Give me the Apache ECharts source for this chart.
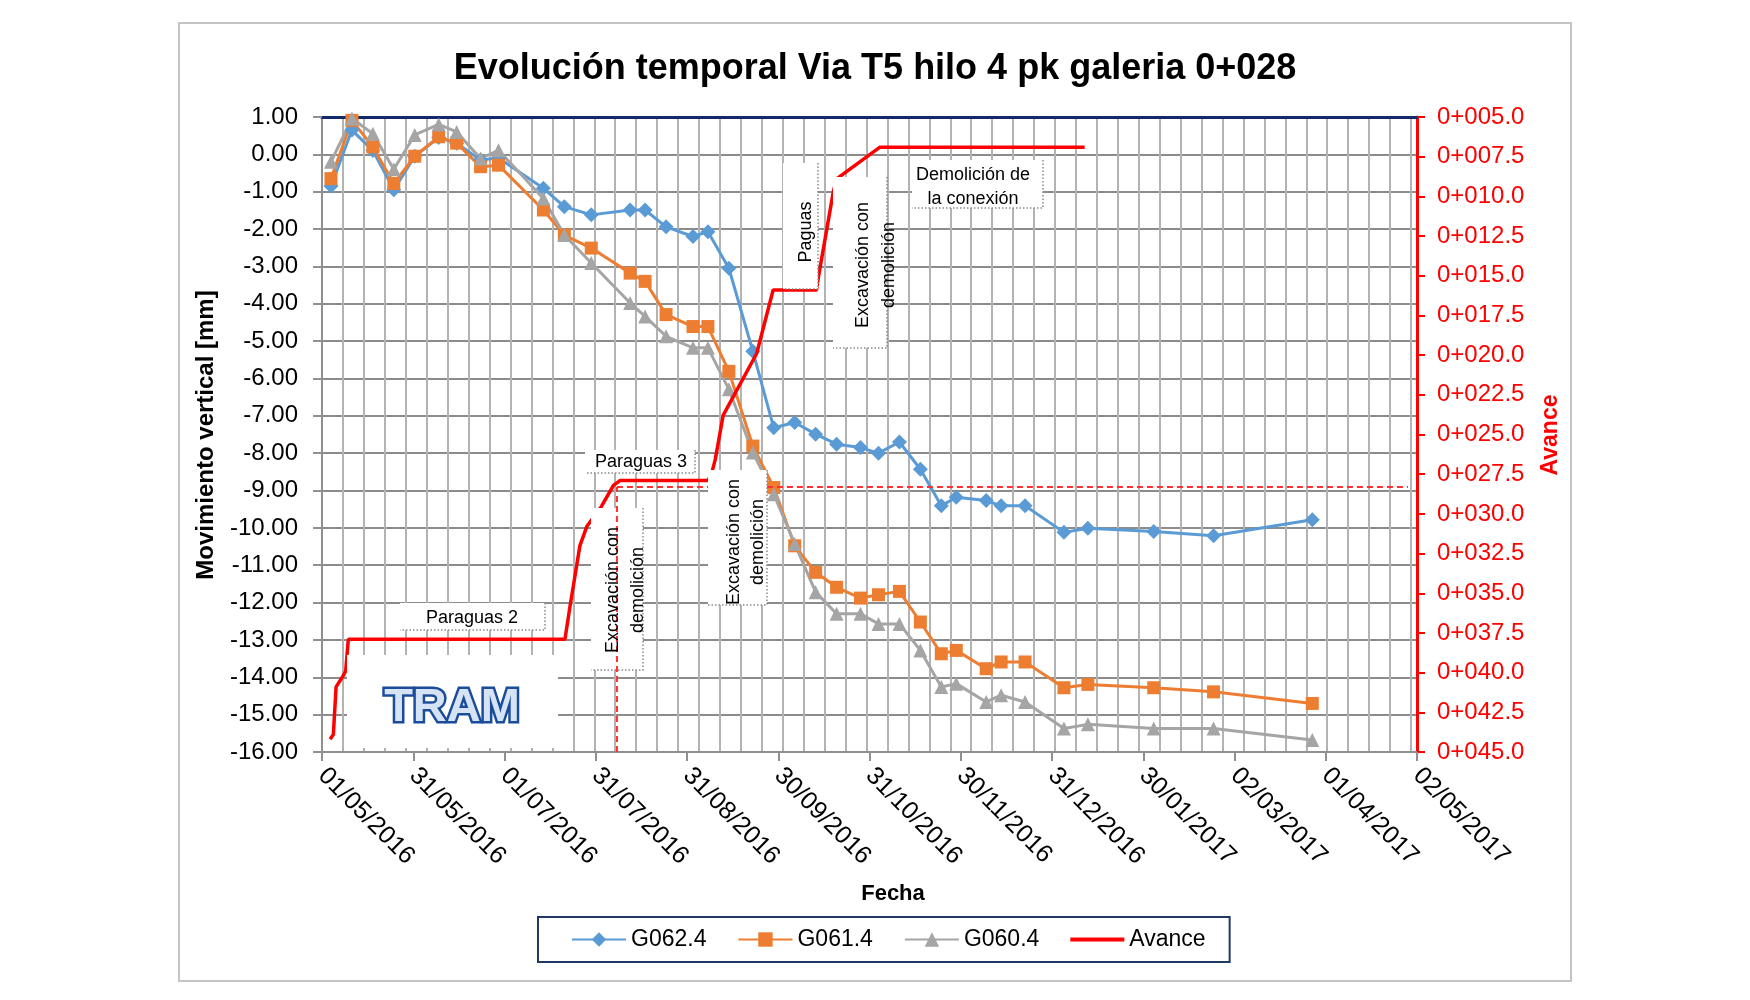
<!DOCTYPE html>
<html><head><meta charset="utf-8">
<style>html,body{margin:0;padding:0;background:#fff}#c{width:1750px;height:1000px}</style>
<script src="https://cdn.jsdelivr.net/npm/echarts@6/dist/echarts.min.js"></script>
</head><body><div id="c"></div>
<script>
// ---------- DATA ----------
const fechas = ["2016-05-04","2016-05-11","2016-05-18","2016-05-25","2016-06-01","2016-06-09","2016-06-15","2016-06-23","2016-06-29","2016-07-14","2016-07-21","2016-07-30","2016-08-12","2016-08-17","2016-08-24","2016-09-02","2016-09-07","2016-09-14","2016-09-22","2016-09-29","2016-10-06","2016-10-13","2016-10-20","2016-10-28","2016-11-03","2016-11-10","2016-11-17","2016-11-24","2016-11-29","2016-12-09","2016-12-14","2016-12-22","2017-01-04","2017-01-12","2017-02-03","2017-02-23","2017-03-28"];
const g062 = [-0.85,0.65,0.10,-0.95,-0.05,0.45,0.30,-0.15,-0.10,-0.91,-1.40,-1.62,-1.49,-1.49,-1.94,-2.20,-2.07,-3.05,-5.27,-7.32,-7.18,-7.49,-7.76,-7.85,-8.00,-7.70,-8.43,-9.41,-9.18,-9.27,-9.41,-9.41,-10.12,-10.01,-10.10,-10.21,-9.78];
const g061 = [-0.65,0.91,0.20,-0.78,-0.05,0.47,0.30,-0.33,-0.29,-1.49,-2.16,-2.51,-3.18,-3.40,-4.29,-4.61,-4.61,-5.81,-7.81,-8.92,-10.48,-11.19,-11.59,-11.88,-11.79,-11.70,-12.52,-13.37,-13.28,-13.77,-13.59,-13.59,-14.28,-14.19,-14.28,-14.39,-14.70];
const g060 = [-0.20,0.96,0.55,-0.40,0.52,0.80,0.60,-0.11,0.11,-1.18,-2.16,-2.91,-3.98,-4.34,-4.87,-5.18,-5.18,-6.29,-7.98,-9.10,-10.43,-11.72,-12.30,-12.30,-12.57,-12.57,-13.28,-14.26,-14.17,-14.66,-14.48,-14.66,-15.37,-15.26,-15.37,-15.37,-15.68];
const avanceFechas = ["2016-05-03T17:00","2016-05-04T19:00","2016-05-05T17:00","2016-05-08T02:00","2016-05-08T22:00","2016-05-09T19:00","2016-07-21T05:00","2016-07-22T22:00","2016-07-25T02:00","2016-07-26T05:00","2016-07-28T12:00","2016-08-02T12:00","2016-08-06T10:00","2016-08-08T14:00","2016-09-07T02:00","2016-09-08T07:00","2016-09-09T10:00","2016-09-12T02:00","2016-09-23T07:00","2016-09-28T19:00","2016-10-13T07:00","2016-10-13T22:00","2016-10-18T22:00","2016-10-20T00:00","2016-11-03T12:00","2017-01-10T22:00"];
const avancePk = [44.2,43.9,40.9,40.2,39.9,37.9,37.9,35.8,33.3,32.0,30.8,29.5,28.2,27.9,27.9,27.4,26.6,23.8,19.9,15.9,15.9,15.1,9.7,8.9,6.9,6.9];
const fechaGaleria = "2016-08-07T14:00";
const pkGaleria = 28.3;
const ejeXInicio = "2016-05-01", ejeXFin = "2017-05-02", ejeXPaso = 30.5, ejeXMenor = 7;
const ejeYMin = -16, ejeYMax = 1, ejeYPaso = 1;
const ejeY2Min = 5, ejeY2Max = 45, ejeY2Paso = 2.5;
const nombres = ["G062.4","G061.4","G060.4","Avance"];
const colores = ["#5b9bd5","#ed7d31","#a5a5a5","#ff0000"];

// ---------- HELPERS ----------
const FONT = "'Liberation Sans', Arial, Helvetica, sans-serif";
function utc(s){const m=s.match(/(\d+)-(\d+)-(\d+)(?:T(\d+):(\d+))?/);return Date.UTC(+m[1],+m[2]-1,+m[3],+(m[4]||0),+(m[5]||0));}
const T0 = utc(ejeXInicio);
const dia = s => (utc(s)-T0)/864e5;
const xMax = dia(ejeXFin);
const p2 = n => (n<10?'0':'')+n;
function fmtFecha(v){const d=new Date(T0+Math.floor(v+1e-6)*864e5);return p2(d.getUTCDate())+'/'+p2(d.getUTCMonth()+1)+'/'+d.getUTCFullYear();}
function fmtPk(v){let s=v.toFixed(1);while(s.length<5)s='0'+s;return '0+'+s;}

function box(x,y,w,h,dotted){
  const els=[{type:'rect',silent:true,z:4,shape:{x:x,y:y,width:w,height:h},style:{fill:'#ffffff'}}];
  if(dotted!==false) els.push({type:'polyline',silent:true,z:4,shape:{points:[[x+w,y],[x+w,y+h],[x,y+h]]},style:{stroke:'#8a8a8a',lineWidth:1.5,lineDash:[1.5,2],fill:null}});
  return els;
}
function txt(x,y,text,o){
  o=o||{};
  return {type:'text',silent:true,z:o.z||6,x:x,y:y,rotation:o.rot||0,
    style:{text:text,x:0,y:0,fill:o.fill||'#000',fontSize:o.size||18,fontWeight:o.weight||'normal',fontFamily:o.family||FONT,
      align:'center',verticalAlign:'middle',lineHeight:o.lh||22,stroke:o.stroke||null,lineWidth:o.lw||0}};
}
const V = Math.PI/2;

const graphics = [].concat(
  [{type:'rect',silent:true,z:0,shape:{x:179,y:23,width:1392,height:958},style:{fill:null,stroke:'#c4c4c4',lineWidth:2}}],
  [txt(875,69,'Evolución temporal Via T5 hilo 4 pk galeria 0+028',{size:36,weight:'bold'})],
  [txt(206,435,'Movimiento vertical [mm]',{size:24,weight:'bold',rot:V})],
  [txt(1551,435,'Avance',{size:23,weight:'bold',rot:V,fill:'#ff0000'})],
  [txt(893,894,'Fecha',{size:22,weight:'bold'})],
  box(400,603,145,27), [txt(472,618,'Paraguas 2')],
  box(585,450,110,23), [txt(641,462,'Paraguas 3')],
  box(591,508,52,162), [txt(625.5,590,'Excavación con\ndemolición',{rot:V,lh:25})],
  box(708,470,59,135), [txt(746.5,542,'Excavación con\ndemolición',{rot:V,lh:24})],
  box(783,163,35,126), [txt(806,232,'Paguas',{rot:V})],
  box(833,177,54,171), [txt(876,265,'Excavación con\ndemolición',{rot:V,lh:26})],
  box(912,160,131,48), [txt(973,187,'Demolición de\nla conexión',{lh:24})],
  box(347,655,211,93,false),
  [txt(452,708,'TRAM',{size:47,weight:'bold',fill:'#d5e3f4',stroke:'#1a4c9c',lw:5})]
);

const mk = arr => fechas.map((f,i)=>[dia(f),arr[i]]);
const chart = echarts.init(document.getElementById('c'),null,{renderer:'canvas'});
chart.setOption({
  animation:false,
  backgroundColor:'#ffffff',
  textStyle:{fontFamily:FONT},
  grid:{left:322,right:333,top:117,bottom:248,containLabel:false},
  legend:{
    data:nombres.map(n=>n==='Avance'?{name:n,icon:'path://M0,0H54V4H0Z'}:n),
    left:538, top:917, orient:'horizontal',
    borderColor:'#1f3864', borderWidth:2, padding:[11,24,11,33],
    itemGap:31, itemWidth:54, itemHeight:18,
    textStyle:{fontSize:23,color:'#000',fontFamily:FONT}
  },
  xAxis:[
    {type:'value',min:0,max:xMax,interval:ejeXPaso,position:'bottom',
      axisLine:{show:true,onZero:false,lineStyle:{color:'#8f8f8f',width:2}},
      axisTick:{show:true,inside:false,length:9,lineStyle:{color:'#8f8f8f',width:2}},
      axisLabel:{rotate:-45,margin:20,fontSize:25,color:'#000',formatter:fmtFecha,fontFamily:FONT},
      splitLine:{show:false}},
    {type:'value',min:0,max:xMax,interval:ejeXMenor,position:'top',
      axisLine:{show:true,onZero:false,lineStyle:{color:'#14296b',width:3}},
      axisTick:{show:false},axisLabel:{show:false},
      splitLine:{show:true,lineStyle:{color:'#b3b3b3',width:2}}}
  ],
  yAxis:[
    {type:'value',min:ejeYMin,max:ejeYMax,interval:ejeYPaso,position:'left',
      axisLine:{show:true,onZero:false,lineStyle:{color:'#8f8f8f',width:2}},
      axisTick:{show:true,length:9,lineStyle:{color:'#8f8f8f',width:2}},
      axisLabel:{margin:24,fontSize:24,color:'#000',formatter:v=>v.toFixed(2),fontFamily:FONT},
      splitLine:{show:true,lineStyle:{color:'#8c8c8c',width:2}}},
    {type:'value',min:ejeY2Min,max:ejeY2Max,interval:ejeY2Paso,inverse:true,position:'right',
      axisLine:{show:true,onZero:false,lineStyle:{color:'#ff0000',width:3}},
      axisTick:{show:true,length:8,lineStyle:{color:'#ff0000',width:2}},
      axisLabel:{margin:20,fontSize:24,color:'#ff0000',formatter:fmtPk,fontFamily:FONT},
      splitLine:{show:false}}
  ],
  series:[
    {name:nombres[0],type:'line',xAxisIndex:0,yAxisIndex:0,data:mk(g062),symbol:'diamond',symbolSize:[15,15],
      lineStyle:{width:3,color:colores[0]},itemStyle:{color:colores[0]},z:2},
    {name:nombres[1],type:'line',xAxisIndex:0,yAxisIndex:0,data:mk(g061),symbol:'rect',symbolSize:13,
      lineStyle:{width:3,color:colores[1]},itemStyle:{color:colores[1]},z:2},
    {name:nombres[2],type:'line',xAxisIndex:0,yAxisIndex:0,data:mk(g060),symbol:'triangle',symbolSize:14,
      lineStyle:{width:3,color:colores[2]},itemStyle:{color:colores[2]},z:2},
    {name:nombres[3],type:'line',xAxisIndex:0,yAxisIndex:1,data:avanceFechas.map((f,i)=>[dia(f),avancePk[i]]),
      symbol:'none',lineStyle:{width:3.5,color:colores[3]},itemStyle:{color:colores[3]},z:3},
    {type:'line',xAxisIndex:0,yAxisIndex:1,silent:true,symbol:'none',z:5,
      data:[[dia(fechaGaleria),ejeY2Max],[dia(fechaGaleria),pkGaleria]],
      lineStyle:{width:2,color:'#ff3030',type:[6,4]}},
    {type:'line',xAxisIndex:0,yAxisIndex:1,silent:true,symbol:'none',z:3,
      data:[[dia(fechaGaleria),pkGaleria],[xMax-3,pkGaleria]],
      lineStyle:{width:2,color:'#ff3030',type:[6,4]}}
  ],
  graphic:{elements:graphics}
});
</script>
</body></html>
